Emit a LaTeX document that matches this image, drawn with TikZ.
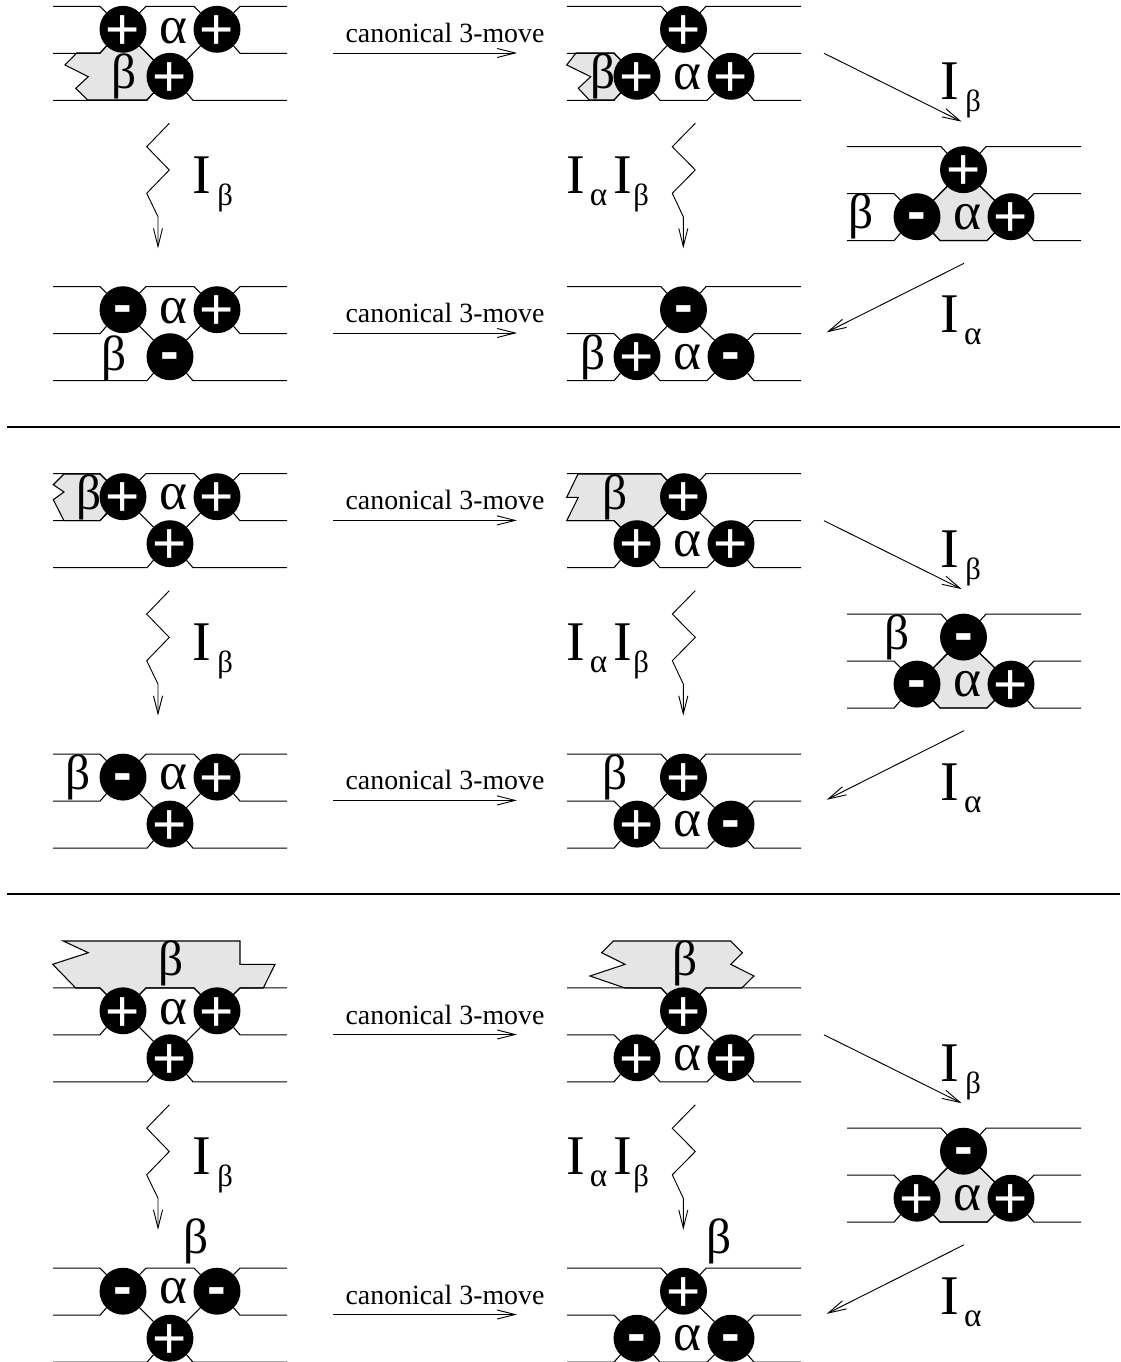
\documentclass[tikz,border=0pt]{standalone}
\usepackage{fontspec}
\setmainfont{Liberation Serif}
\newfontfamily\signfont{Liberation Sans}
\usetikzlibrary{arrows.meta}

\newcommand{\sgnp}{\fontsize{44}{44}\selectfont\smash{\raisebox{-.345em}{+}}}
\newcommand{\sgnm}{\fontsize{42}{42}\selectfont\bfseries\smash{\raisebox{-.25em}{-}}}
\newcommand{\subalpha}{\raisebox{-9pt}{\fontsize{25}{25}\selectfont α}}
\newcommand{\subbeta}{\raisebox{-9pt}{\fontsize{23}{23}\selectfont β}}

\tikzset{
  strand/.style={line width=0.8pt},
  xing/.style={circle,fill=black,text=white,minimum size=35.2pt,inner sep=0pt,outer sep=0pt,font=\signfont},
  region/.style={fill=black!10,draw=black,line width=0.8pt},
  letter/.style={inner sep=0pt,font=\fontsize{37}{37}\selectfont},
  wideletter/.style={inner sep=0pt,font=\fontsize{40}{40}\selectfont},
  moveword/.style={inner sep=0pt,font=\fontsize{20.9}{24}\selectfont},
  bigi/.style={inner sep=0pt,anchor=base west,font=\fontsize{42}{42}\selectfont},
  barb/.style={-{Straight Barb[length=13.5pt,width=6.8pt]},line width=0.7pt},
  rule/.style={line width=0.8pt}
}

% two crossings on top, one below
\newcommand{\tangleA}[6]{
  \begin{scope}[shift={(#2,#3)}]
    \node[xing] (#1l) at (70,23) {#4};
    \node[xing] (#1r) at (164,23) {#5};
    \node[xing] (#1b) at (117,70) {#6};
    \draw[strand] (0,0) -- (47,0) -- (#1l.north west);
    \draw[strand] (#1l.north east) -- (93,0) -- (141,0) -- (#1r.north west);
    \draw[strand] (#1r.north east) -- (187,0) -- (234,0);
    \draw[strand] (0,47) -- (47,47) -- (#1l.south west);
    \draw[strand] (#1l.south east) -- (#1b.north west);
    \draw[strand] (#1r.south west) -- (#1b.north east);
    \draw[strand] (#1r.south east) -- (187,47) -- (234,47);
    \draw[strand] (0,94) -- (94,94) -- (#1b.south west);
    \draw[strand] (#1b.south east) -- (140,94) -- (234,94);
  \end{scope}
}
% one crossing on top, two below
\newcommand{\tangleB}[6]{
  \begin{scope}[shift={(#2,#3)}]
    \node[xing] (#1t) at (116.5,23) {#4};
    \node[xing] (#1l) at (70,70) {#5};
    \node[xing] (#1r) at (164,70) {#6};
    \draw[strand] (0,0) -- (94,0) -- (#1t.north west);
    \draw[strand] (#1t.north east) -- (139,0) -- (234,0);
    \draw[strand] (0,47) -- (47,47) -- (#1l.north west);
    \draw[strand] (#1l.north east) -- (#1t.south west);
    \draw[strand] (#1t.south east) -- (#1r.north west);
    \draw[strand] (#1r.north east) -- (187,47) -- (234,47);
    \draw[strand] (0,94) -- (47,94) -- (#1l.south west);
    \draw[strand] (#1l.south east) -- (93,94) -- (140,94) -- (#1r.south west);
    \draw[strand] (#1r.south east) -- (187,94) -- (234,94);
  \end{scope}
}

\begin{document}
\begin{tikzpicture}[x=0.75pt,y=-0.75pt]
  \useasboundingbox (0,0) rectangle (1120,1362);

  % Shaded regions
  \draw[region] (76.7,53) -- (65,65) -- (88.3,76.7) -- (75.7,88.3) -- (87.7,100) -- (146.7,100)
      -- (170,76.3) -- (122.7,29.3) -- (100,53) -- cycle;
  \draw[region] (576,53) -- (566.7,65) -- (590.7,76.7) -- (578.3,88.3) -- (589.3,100) -- (614,100)
      -- (637,76.3) -- (614,53) -- cycle;
  \draw[region] (64,474) -- (53.3,484.7) -- (64,492) -- (53.3,499.7) -- (64,520.7) -- (100,520.7)
      -- (123,497.3) -- (100,474) -- cycle;
  \draw[region] (578,474) -- (566.7,497.3) -- (578.3,497.3) -- (566.7,520.7) -- (614,520.7)
      -- (637,544) -- (683.5,497) -- (661,474) -- cycle;
  \draw[region] (63.3,941) -- (88.3,952.7) -- (52.7,964.3) -- (75.7,988) -- (100,988) -- (123,1011)
      -- (146,988) -- (194,988) -- (217,1011) -- (240,988) -- (263.3,988) -- (275,964.3) -- (240,964.3)
      -- (240,941) -- cycle;
  \draw[region] (613.3,941) -- (601.7,952.7) -- (625,964.3) -- (590,976) -- (625,988) -- (661,988)
      -- (683.5,1011) -- (706,988) -- (741.7,988) -- (754,976) -- (730.7,964.3) -- (742.3,952.7)
      -- (730.7,941) -- cycle;
  \foreach \dy in {0,467.4,981.5}
    \draw[region] (964,170+\dy) -- (917,216.7+\dy) -- (940,240.5+\dy) -- (987,240.5+\dy)
        -- (1011,216.7+\dy) -- cycle;

  % First group
  \tangleA{p}{53}{6.3}{\sgnp}{\sgnp}{\sgnp}
  \tangleB{q}{567}{6.3}{\sgnp}{\sgnp}{\sgnp}
  \tangleB{r}{847}{146.7}{\sgnp}{\sgnm}{\sgnp}
  \tangleA{s}{53}{286.7}{\sgnm}{\sgnp}{\sgnm}
  \tangleB{t}{567}{286.7}{\sgnm}{\sgnp}{\sgnm}
  % Second group
  \tangleA{pp}{53}{473.7}{\sgnp}{\sgnp}{\sgnp}
  \tangleB{qq}{567}{473.7}{\sgnp}{\sgnp}{\sgnp}
  \tangleB{rr}{847}{614.1}{\sgnm}{\sgnm}{\sgnp}
  \tangleA{ss}{53}{754.1}{\sgnm}{\sgnp}{\sgnp}
  \tangleB{tt}{567}{754.1}{\sgnp}{\sgnp}{\sgnm}
  % Third group
  \tangleA{ppp}{53}{987.8}{\sgnp}{\sgnp}{\sgnp}
  \tangleB{qqq}{567}{987.8}{\sgnp}{\sgnp}{\sgnp}
  \tangleB{rrr}{847}{1128.2}{\sgnm}{\sgnp}{\sgnp}
  \tangleA{sss}{53}{1268.2}{\sgnm}{\sgnm}{\sgnp}
  \tangleB{ttt}{567}{1268.2}{\sgnp}{\sgnm}{\sgnm}

  % Arrows and their labels, the same in each group
  \foreach \g/\dy in {a/0,b/467.4,c/981.5}{
    \begin{scope}[shift={(0,\dy)}]
      \coordinate (\g m1) at (333,53);
      \coordinate (\g m2) at (517,53);
      \coordinate (\g m3) at (333,333);
      \coordinate (\g m4) at (517,333);
      \draw[barb] (\g m1) -- (\g m2);
      \draw[barb] (\g m3) -- (\g m4);
      \node[moveword] (\g w1) at (445,33) {canonical 3-move};
      \node[moveword] (\g w2) at (445,313) {canonical 3-move};
      % Zigzags
      \coordinate (\g z1) at (169.3,123.3);
      \coordinate (\g z2) at (158,248.3);
      \draw[barb] (\g z1) -- (146.7,146.7) -- (169.3,170) -- (146.7,193.3) -- (158,216.7) -- (\g z2);
      \coordinate (\g z3) at (695.3,123.3);
      \coordinate (\g z4) at (683.3,248.3);
      \draw[barb] (\g z3) -- (672.3,146.7) -- (695.3,170) -- (672.3,193.3) -- (683.3,216.7) -- (\g z4);
      % Slanted arrows
      \coordinate (\g d1) at (824,53.3);
      \coordinate (\g d2) at (961.7,121.7);
      \coordinate (\g d3) at (964,263.3);
      \coordinate (\g d4) at (826.7,332.3);
      \draw[barb] (\g d1) -- (\g d2);
      \draw[barb] (\g d3) -- (\g d4);
      \node[bigi] (\g i1) at (192.5,193.3) {I\hspace{4.5pt}\subbeta};
      \node[bigi] (\g i2) at (566.5,193.3) {I\hspace{3.4pt}\subalpha\hspace{4.5pt}I\hspace{1pt}\subbeta};
      \node[bigi] (\g i3) at (940.5,100) {I\hspace{4.5pt}\subbeta};
      \node[bigi] (\g i4) at (940.5,333) {I\hspace{3.6pt}\subalpha};
    \end{scope}
  }

  % Greek letters of the regions
  \node[wideletter] (a1) at (173.3,30.7) {α};
  \node[letter] (b1) at (124,76) {β};
  \node[wideletter] (a2) at (687,76.7) {α};
  \node[letter] (b2) at (603,76) {β};
  \node[wideletter] (a3) at (967.7,216.7) {α};
  \node[letter] (b3) at (860.7,216.7) {β};
  \node[wideletter] (a4) at (173.3,311) {α};
  \node[letter] (b4) at (114,358) {β};
  \node[wideletter] (a5) at (687,357) {α};
  \node[letter] (b5) at (593,357) {β};
  \node[wideletter] (a6) at (173.3,497.3) {α};
  \node[letter] (b6) at (89.3,497.3) {β};
  \node[wideletter] (a7) at (687,544) {α};
  \node[letter] (b7) at (615,497.3) {β};
  \node[wideletter] (a8) at (967.7,684) {α};
  \node[letter] (b8) at (897,637) {β};
  \node[wideletter] (a9) at (173.3,777.5) {α};
  \node[letter] (b9) at (78,777.5) {β};
  \node[wideletter] (a10) at (687,824) {α};
  \node[letter] (b10) at (615,777.5) {β};
  \node[wideletter] (a11) at (173.3,1011.7) {α};
  \node[letter] (b11) at (171,963) {β};
  \node[wideletter] (a12) at (687,1058) {α};
  \node[letter] (b12) at (685,963) {β};
  \node[wideletter] (a13) at (967.7,1198) {α};
  \node[wideletter] (a14) at (173.3,1291) {α};
  \node[letter] (b14) at (196,1241) {β};
  \node[wideletter] (a15) at (687,1338) {α};
  \node[letter] (b15) at (719,1241) {β};

  % Separators
  \coordinate (s1) at (7,427);
  \coordinate (s2) at (1120,427);
  \coordinate (s3) at (7,894);
  \coordinate (s4) at (1120,894);
  \draw[rule] (s1) -- (s2);
  \draw[rule] (s3) -- (s4);
\end{tikzpicture}
\end{document}
